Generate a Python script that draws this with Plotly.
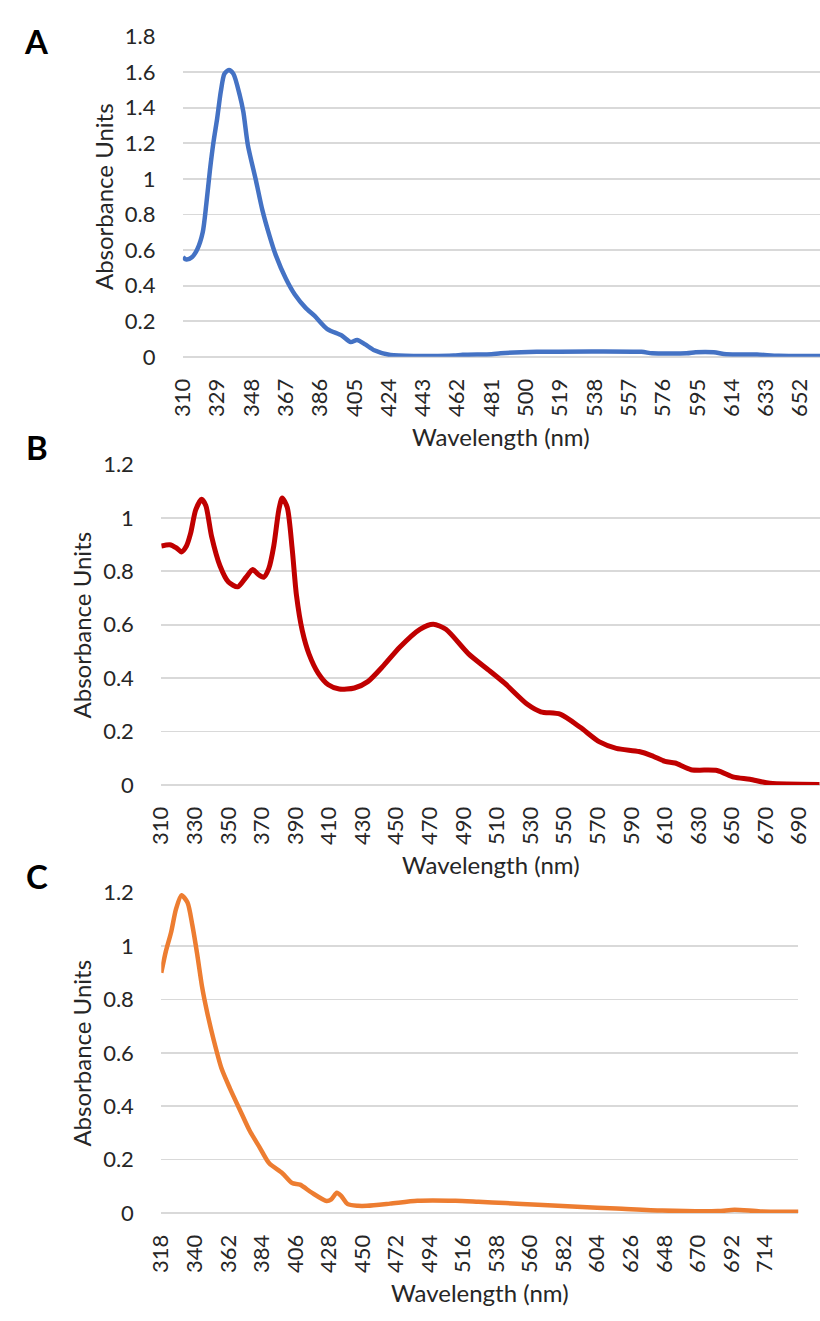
import plotly.graph_objects as go

# ---------------- data ----------------
a_nm = [310, 312, 315, 318, 321, 323, 325, 327, 329, 331, 333, 335.5, 338, 341.5, 343.5, 346,
        350.5, 354, 358, 361.5, 367, 372, 378, 383, 390, 398, 403, 406.5, 411, 416, 425, 440,
        460, 465, 481, 486, 506, 564, 570, 589, 594, 604, 611, 628, 640, 663]
a_abs = [0.56, 0.547, 0.56, 0.605, 0.70, 0.86, 1.05, 1.21, 1.34, 1.49, 1.59, 1.612, 1.59, 1.47,
         1.376, 1.19, 0.99, 0.826, 0.68, 0.57, 0.44, 0.35, 0.275, 0.23, 0.156, 0.12, 0.083, 0.095,
         0.07, 0.037, 0.01, 0.005, 0.007, 0.012, 0.015, 0.02, 0.028, 0.028, 0.02, 0.02, 0.026,
         0.026, 0.015, 0.013, 0.006, 0.005]

b_nm = [310, 315, 319, 322, 325, 327.5, 330.5, 334, 336.5, 340, 345, 350, 355.5, 360.5, 364.5,
        367.5, 371, 374, 377, 380, 382, 385, 388, 390.5, 394, 398, 403.5, 409.5, 416, 425, 433,
        442.5, 452, 464, 472, 479.5, 493, 505, 514.5, 528, 536, 547.5, 559.5, 571, 581, 594.5,
        602, 610, 616, 625.5, 641, 651, 660.5, 672.5, 702]
b_abs = [0.895, 0.90, 0.888, 0.873, 0.895, 0.943, 1.03, 1.07, 1.047, 0.93, 0.82, 0.76, 0.742,
         0.778, 0.807, 0.79, 0.778, 0.81, 0.895, 1.03, 1.075, 1.04, 0.882, 0.711, 0.577, 0.49,
         0.418, 0.375, 0.359, 0.363, 0.387, 0.448, 0.516, 0.583, 0.602, 0.583, 0.491, 0.43,
         0.381, 0.302, 0.274, 0.265, 0.216, 0.161, 0.137, 0.125, 0.11, 0.088, 0.082, 0.057,
         0.054, 0.029, 0.021, 0.006, 0.002]

c_nm = [318, 321, 324.5, 327.7, 331.3, 335.2, 338.4, 341.6, 344.8, 348, 352.3, 357.6, 363,
        369.5, 376, 382.4, 388.8, 397.4, 403.8, 409, 416.7, 426.4, 429.5, 433.2, 436, 440.3,
        447, 453, 468, 486, 511, 526, 543.6, 565, 590.8, 616.6, 646.6, 683, 694, 711, 736]
c_abs = [0.90, 0.98, 1.053, 1.139, 1.19, 1.163, 1.078, 0.968, 0.846, 0.754, 0.65, 0.54, 0.467,
         0.387, 0.308, 0.247, 0.186, 0.149, 0.112, 0.106, 0.076, 0.045, 0.051, 0.076, 0.064,
         0.033, 0.027, 0.027, 0.035, 0.046, 0.046, 0.042, 0.037, 0.031, 0.023, 0.017, 0.009,
         0.007, 0.012, 0.006, 0.005]

a_ticks = list(range(310, 653, 19))
b_ticks = list(range(310, 691, 20))
c_ticks = list(range(318, 715, 22))
a_yticks = [0, 0.2, 0.4, 0.6, 0.8, 1, 1.2, 1.4, 1.6, 1.8]
bc_yticks = [0, 0.2, 0.4, 0.6, 0.8, 1, 1.2]

panel_letters = ["A", "B", "C"]
x_title = "Wavelength (nm)"
y_title = "Absorbance Units"

# ---------------- layout helpers ----------------
W, H = 820, 1321
FONT = "Lato, Calibri, Carlito, sans-serif"
TXT = "#262626"
GRID = "#d9d9d9"
TICK_SIZE = 22
TITLE_SIZE = 24


def fx(px):
    return px / W


def fy(py):
    return 1 - py / H


panels = [
    dict(l=171, r=820, t=23, b=350, xr=[310, 662.9], xt=a_ticks, yr=[0, 1.8], yt=a_yticks,
         col="#4472C4", lw=4.5, x=a_nm, y=a_abs),
    dict(l=149, r=820, t=460, b=787, xr=[310, 702.3], xt=b_ticks, yr=[0, 1.2], yt=bc_yticks,
         col="#C00000", lw=5, x=b_nm, y=b_abs),
    dict(l=149, r=798, t=897, b=1224, xr=[318, 735.9], xt=c_ticks, yr=[0, 1.2], yt=bc_yticks,
         col="#ED7D31", lw=4.5, x=c_nm, y=c_abs),
]

fig = go.Figure()
layout = dict(width=W, height=H, margin=dict(l=0, r=0, t=0, b=0),
              paper_bgcolor="white", plot_bgcolor="white", showlegend=False,
              font=dict(family=FONT, color=TXT, size=TICK_SIZE))
annotations = []

for i, p in enumerate(panels):
    sfx = "" if i == 0 else str(i + 1)
    fig.add_trace(go.Scatter(x=p["x"], y=p["y"], mode="lines",
                             line=dict(color=p["col"], width=p["lw"], shape="spline", smoothing=0.7),
                             xaxis="x" + sfx, yaxis="y" + sfx, hoverinfo="skip"))
    layout["xaxis" + sfx] = dict(domain=[fx(p["l"]), fx(p["r"])], range=p["xr"],
                                 tickvals=p["xt"], tickangle=-90, showgrid=False, zeroline=False,
                                 showline=False, ticks="outside", ticklen=12,
                                 tickcolor="rgba(0,0,0,0)", anchor="y" + sfx,
                                 tickfont=dict(size=TICK_SIZE, family=FONT, color=TXT))
    layout["yaxis" + sfx] = dict(domain=[fy(p["b"]), fy(p["t"])], range=p["yr"],
                                 tickvals=p["yt"], showgrid=True, gridcolor=GRID, gridwidth=1.8,
                                 zeroline=True, zerolinecolor=GRID, zerolinewidth=1.8,
                                 showline=False, ticks="outside", ticklen=22,
                                 tickcolor="rgba(0,0,0,0)", anchor="x" + sfx,
                                 tickfont=dict(size=TICK_SIZE, family=FONT, color=TXT))
    annotations.append(dict(text=x_title, x=fx((p["l"] + p["r"]) / 2), y=fy(p["b"] + 81),
                            xref="paper", yref="paper", showarrow=False,
                            xanchor="center", yanchor="middle",
                            font=dict(size=TITLE_SIZE, family=FONT, color=TXT)))
    annotations.append(dict(text=y_title, x=fx(p["l"] - 81), y=fy((p["t"] + p["b"]) / 2),
                            xref="paper", yref="paper", showarrow=False, textangle=-90,
                            xanchor="center", yanchor="middle",
                            font=dict(size=TITLE_SIZE, family=FONT, color=TXT)))

letter_y = [28, 442, 880]
for letter, ly in zip(panel_letters, letter_y):
    annotations.append(dict(text="<b>%s</b>" % letter, x=fx(22), y=fy(ly), xref="paper",
                            yref="paper", showarrow=False, xanchor="center", yanchor="middle",
                            font=dict(size=33, family=FONT, color="#000000")))

layout["annotations"] = annotations
fig.update_layout(**layout)
fig.write_html("out.html", config={"displayModeBar": False, "staticPlot": True},
               post_script="document.body.style.margin='0';document.body.style.overflow='hidden';")
